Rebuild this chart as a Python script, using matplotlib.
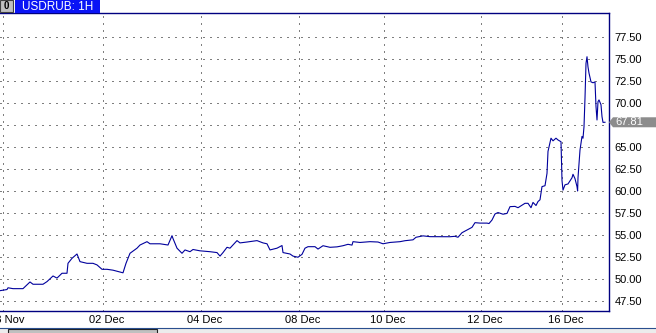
import numpy as np
import matplotlib
matplotlib.use('Agg')
import matplotlib.pyplot as plt
from matplotlib.patches import Rectangle, Polygon
from matplotlib.transforms import blended_transform_factory, ScaledTranslation

plt.rcParams['font.family'] = ['Liberation Sans', 'DejaVu Sans']

# hourly bar index and USDRUB close (10 per row)
bars = [0, 3.5, 4, 6.5, 11.5, 15, 16.5, 21.5, 23.5, 26.5,
        28.5, 31, 33.5, 34, 36, 38.5, 40, 43.5, 46.5, 48.5,
        51, 53.5, 56.5, 59, 61.5, 63, 65, 68.5, 70, 73.5,
        75, 80, 84, 86, 86.5, 88.5, 91, 92.5, 95, 96.5,
        100, 105, 108.5, 110, 111.5, 113.5, 115, 118.5, 120, 123.5,
        128.5, 131.5, 133.5, 135, 138.5, 141, 141.5, 145, 146.5, 149,
        151, 152.5, 154, 157.5, 159, 161.5, 165, 168.5, 171.5, 174,
        176, 176.5, 180, 185, 189, 191.5, 195, 200, 202.5, 206.5,
        208, 211.5, 215, 220, 225, 227.5, 229, 231, 233.5, 236,
        237.5, 240, 243.5, 244.5, 246, 247.5, 249, 251.5, 253.5, 255,
        257.5, 259, 262.5, 264, 265.5, 266.5, 268, 269, 270, 271,
        272.5, 273.5, 274, 275.5, 276.5, 278, 279, 280.5, 281, 281.5,
        282.5, 284, 286, 286.5, 287.5, 288.5, 288.8, 289, 290, 291,
        291.5, 292, 292.5, 293, 293.5, 294, 294.5, 295.5, 296.5, 297.5,
        298, 298.5, 299, 299.5, 300.5, 301, 301.5, 302.5]
rate = [48.67, 48.8, 49.0, 48.9, 48.9, 49.66, 49.4, 49.4, 49.7, 50.34,
        50.1, 50.65, 50.65, 51.78, 52.35, 52.84, 51.97, 51.78, 51.78, 51.6,
        51.1, 51.1, 51.0, 50.85, 50.7, 51.78, 52.92, 53.5, 53.86, 54.24,
        54.0, 54.0, 53.86, 54.92, 54.6, 53.5, 52.92, 53.3, 53.1, 53.35,
        53.2, 53.1, 53.0, 52.6, 53.0, 53.6, 53.5, 54.36, 54.1, 54.2,
        54.36, 54.1, 54.0, 53.3, 53.5, 53.8, 53.0, 52.84, 52.6, 52.47,
        52.8, 53.5, 53.67, 53.67, 53.4, 53.78, 53.6, 53.65, 53.78, 53.94,
        53.85, 54.24, 54.15, 54.24, 54.2, 54.0, 54.15, 54.24, 54.35, 54.45,
        54.74, 54.9, 54.81, 54.8, 54.8, 54.85, 54.74, 55.26, 55.57, 55.87,
        56.4, 56.35, 56.35, 56.3, 56.7, 57.39, 57.55, 57.36, 57.45, 58.22,
        58.25, 58.1, 58.6, 58.6, 58.1, 58.7, 58.35, 58.8, 59.0, 60.5,
        60.6, 62.0, 64.5, 66.0, 65.7, 66.0, 65.8, 65.6, 61.2, 60.1,
        60.7, 60.8, 61.5, 61.9, 61.4, 60.5, 60.0, 61.5, 64.66, 66.2,
        66.0, 67.3, 70.57, 74.5, 75.26, 74.1, 73.4, 72.4, 72.3, 72.4,
        69.6, 68.07, 70.15, 70.35, 69.8, 68.45, 67.8, 67.81]

tick_bars = [1.5, 51.5, 100.5, 149.5, 192, 240.5, 281]
tick_labels = ['28 Nov', '02 Dec', '04 Dec', '08 Dec', '10 Dec', '12 Dec', '16 Dec']
y_ticks = np.arange(47.5, 77.6, 2.5)
last = rate[-1]

W, H = 656, 333
fig = plt.figure(figsize=(W / 100, H / 100), dpi=100)
ax = fig.add_axes([0, (H - 311) / H, 609 / W, (311 - 13) / H])

navy = '#000080'
ax.plot(bars, rate, color='#00009c', lw=0.8)
ax.set_xlim(0, 304.5)
ax.set_ylim(46.36, 80.23)

ax.set_xticks(tick_bars)
ax.set_xticklabels(tick_labels, fontsize=8)
ax.set_yticks(y_ticks)
# the label hidden behind the price tag is left out
ax.set_yticklabels(['' if abs(v - last) < 1 else '%.2f' % v for v in y_ticks], fontsize=8)
ax.yaxis.tick_right()
ax.tick_params(axis='both', length=0, colors='black')
ax.tick_params(axis='x', pad=3)
ax.tick_params(axis='y', pad=4)
shift = ScaledTranslation(3.5 / 100, 0, fig.dpi_scale_trans)
for lab in ax.get_xticklabels():
    lab.set_transform(lab.get_transform() + shift)

ax.grid(True, color='black', lw=0.72, linestyle=(0, (1, 6)))
for s in ['top', 'right', 'bottom']:
    ax.spines[s].set_color(navy)
    ax.spines[s].set_linewidth(1.0)
ax.spines['left'].set_visible(False)

# current price tag
tr = blended_transform_factory(fig.transFigure, ax.transData)
hh = 5 / 8.8
tag = Polygon([(609 / W, last), (613 / W, last + hh), (1, last + hh), (1, last - hh),
               (613 / W, last - hh)], closed=True, transform=tr, facecolor='#8c8c8c',
              edgecolor='none', clip_on=False, zorder=10)
fig.add_artist(tag)
fig.text(615 / W, last, '%.2f' % last, transform=tr, color='white', fontsize=8,
         va='center', ha='left', zorder=11)

# title box
fig.patches.append(Rectangle((0, (H - 12) / H), 13 / W, 12 / H, transform=fig.transFigure,
                             facecolor='#c0c0c0', edgecolor='#404040', lw=0.8))
fig.text(6.5 / W, (H - 6) / H, '0', fontsize=7, fontweight='bold', ha='center', va='center')
fig.patches.append(Rectangle((15 / W, (H - 13) / H), 85 / W, 13 / H, transform=fig.transFigure,
                             facecolor='#0a14f5', edgecolor='none'))
fig.text(22 / W, (H - 6.5) / H, 'USDRUB: 1H', fontsize=8.5, color='white', ha='left', va='center')

# bottom strip with scrollbar
fig.patches.append(Rectangle((0, 0), 1, 5 / H, transform=fig.transFigure,
                             facecolor='#ececec', edgecolor='none'))
fig.add_artist(plt.Line2D([0, 1], [5.5 / H, 5.5 / H], transform=fig.transFigure,
                          color='#2a4f8f', lw=0.8))
fig.patches.append(Rectangle((8 / W, -2 / H), 149 / W, 6 / H, transform=fig.transFigure,
                             facecolor='#c0c0c0', edgecolor='#202020', lw=0.8))

fig.savefig('out.png', dpi=100)
